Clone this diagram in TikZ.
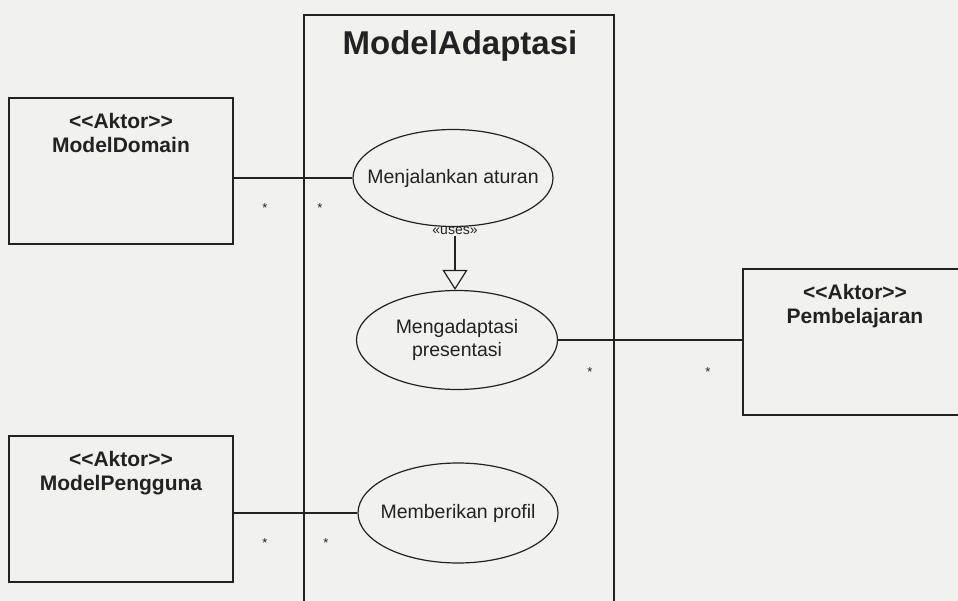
\documentclass[tikz,border=0pt]{standalone}
\usepackage{fontspec}
\setmainfont{Liberation Sans}
\usetikzlibrary{positioning,shapes.geometric,arrows.meta}
\definecolor{paper}{RGB}{241,242,238}
\definecolor{ink}{RGB}{34,34,34}
\newcommand{\aktor}{<\kern0pt<Aktor>\kern0pt>}
\begin{document}
\begin{tikzpicture}[x=1pt,y=-1pt,
    every node/.style={text=ink},
    actorbox/.style={draw=ink,line width=1.4pt,minimum width=224pt,minimum height=146pt,inner sep=0pt},
    actortext/.style={align=center,inner sep=0pt,font=\bfseries\fontsize{21}{24}\selectfont},
    usecase/.style={draw=ink,line width=1.2pt,ellipse,minimum width=200pt,minimum height=97pt,inner sep=0pt},
    uctext/.style={align=center,inner sep=0pt,font=\fontsize{19.5}{23}\selectfont},
    mult/.style={anchor=base,inner sep=0pt,font=\fontsize{13}{13}\selectfont},
    link/.style={draw=ink,line width=1.4pt}]
        \useasboundingbox (0,0) rectangle (958,601);
        \fill[paper] (0,0) rectangle (958,601);
        \clip (0,0) rectangle (958,601);

        % system boundary
        \node (system) [draw=ink,line width=1.6pt,anchor=north west,minimum width=310pt,minimum height=610pt,inner sep=0pt] at (303,14) {};
        \node (title) [anchor=base,inner sep=0pt,font=\bfseries\fontsize{33}{40}\selectfont] at (460,55) {ModelAdaptasi};

        % actors
        \node (domain) [actorbox] at (121,171) {};
        \node (domaintext) [actortext,below=16pt of domain.north] {\aktor\\ModelDomain};
        \node (user) [actorbox] at (121,509) {};
        \node (usertext) [actortext,below=16pt of user.north] {\aktor\\ModelPengguna};
        \node (learner) [actorbox] at (855,342) {};
        \node (learnertext) [actortext,below=16pt of learner.north] {\aktor\\Pembelajaran};

        % use cases
        \node (run) [usecase] at (453,178) {};
        \node (runtext) [uctext] at (run) {Menjalankan aturan};
        \node (adapt) [usecase,minimum width=201pt,minimum height=99pt] at (457,340) {};
        \node (adapttext) [uctext] at (adapt) {Mengadaptasi\\presentasi};
        \node (profile) [usecase,minimum height=100pt] at (458,513) {};
        \node (profiletext) [uctext] at (profile) {Memberikan profil};
        \node (uses) [inner sep=1pt,font=\fontsize{14}{14}\selectfont] at (455,231) {«uses»};

        \draw[link] (run.west -| domain.east) -- (run.west);
        \draw[link] (adapt.east) -- (adapt.east -| learner.west);
        \draw[link] (profile.west -| user.east) -- (profile.west);
        \draw[link,line width=1.2pt,-{Triangle[open,length=20pt,width=25pt]}] (uses.south) -- (uses.south |- adapt.north);

        \node (m1) [mult] at (265,213) {*};
        \node (m2) [mult] at (320,213) {*};
        \node (m3) [mult] at (590,376) {*};
        \node (m4) [mult] at (708,376) {*};
        \node (m5) [mult] at (265,547) {*};
        \node (m6) [mult] at (326,547) {*};
\end{tikzpicture}
\end{document}
